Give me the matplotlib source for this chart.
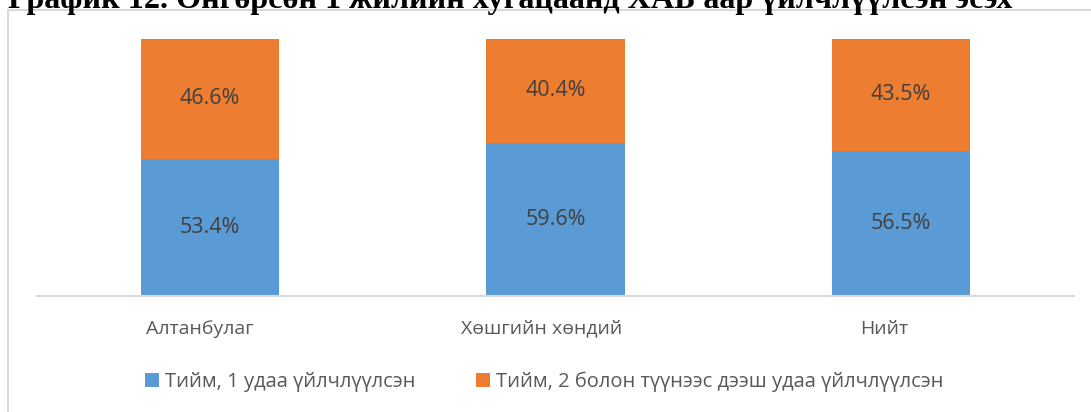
import matplotlib.pyplot as plt
from matplotlib.patches import Rectangle
import numpy as np

# data
categories = ['Алтанбулаг', 'Хөшгийн хөндий', 'Нийт']
once = [53.4, 59.6, 56.5]
more = [46.6, 40.4, 43.5]
series_names = ['Тийм, 1 удаа үйлчлүүлсэн', 'Тийм, 2 болон түүнээс дээш удаа үйлчлүүлсэн']
title = 'График 12. Өнгөрсөн 1 жилийн хугацаанд ХАБ аар үйлчлүүлсэн эсэх'

BLUE = '#5B9BD5'
ORANGE = '#ED7D31'
GRAY_TXT = '#595959'
LINE = '#D9D9D9'

plt.rcParams['font.family'] = ['Open Sans', 'DejaVu Sans']

W, H = 1091, 412
fig = plt.figure(figsize=(W / 100, H / 100), dpi=100)

# chart frame (bottom and right edges fall outside the picture)
fig.patches.append(Rectangle((7.5 / W, -0.1), 1.2, (H - 10) / H + 0.1,
                             transform=fig.transFigure, fill=False,
                             edgecolor=LINE, linewidth=1.5))

# title, cut off at the top
fig.text(8 / W, 1 - 8 / H, title, family='Liberation Serif', weight='bold',
         fontsize=23.1, va='baseline', ha='left', color='black')

ax = fig.add_axes([37 / W, 116 / H, (1074 - 37) / W, (296 - 39) / H])
x = np.arange(len(categories))
frac_once = np.array(once) / 100
frac_more = np.array(more) / 100
b1 = ax.bar(x, frac_once, width=0.4, color=BLUE, label=series_names[0])
b2 = ax.bar(x, frac_more, width=0.4, bottom=frac_once, color=ORANGE, label=series_names[1])

for i in range(len(categories)):
    ax.text(x[i], frac_once[i] / 2, f'{once[i]:.1f}%', ha='center', va='center',
            fontsize=15.5, color='#404040')
    ax.text(x[i], frac_once[i] + frac_more[i] / 2, f'{more[i]:.1f}%', ha='center',
            va='center', fontsize=15.5, color='#404040')

ax.set_xlim(-0.5, len(categories) - 0.5)
ax.set_ylim(0, 1)
# category labels sit a little left of the bars in the original
ax.set_xticks(x * 0.99 - 0.03)
ax.set_xticklabels(categories, fontsize=14, color=GRAY_TXT)
ax.tick_params(axis='x', length=0, pad=17)
ax.set_yticks([])
for s in ['top', 'right', 'left']:
    ax.spines[s].set_visible(False)
ax.spines['bottom'].set_color(LINE)
ax.spines['bottom'].set_linewidth(1.5)

leg = fig.legend(handles=[b1, b2], loc='center', bbox_to_anchor=(544 / W, 1 - 382 / H),
                 ncol=2, frameon=False, fontsize=14.5, handlelength=0.7, handleheight=0.7,
                 handletextpad=0.3, columnspacing=3.0)
for t in leg.get_texts():
    t.set_color(GRAY_TXT)

fig.savefig('out.png', dpi=100)
